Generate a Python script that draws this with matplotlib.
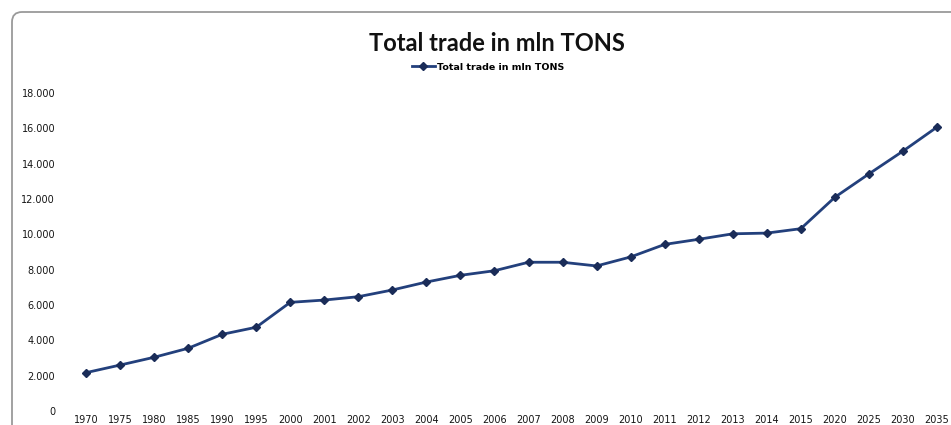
import matplotlib.pyplot as plt
from matplotlib.patches import FancyBboxPatch
from matplotlib.lines import Line2D

# --- Data ---
years = ["1970", "1975", "1980", "1985", "1990", "1995", "2000", "2001", "2002",
         "2003", "2004", "2005", "2006", "2007", "2008", "2009", "2010", "2011",
         "2012", "2013", "2014", "2015", "2020", "2025", "2030", "2035"]
trade = [2170, 2600, 3040, 3550, 4340, 4740, 6150, 6280, 6470,
         6850, 7300, 7680, 7940, 8420, 8420, 8210, 8720, 9430,
         9720, 10030, 10070, 10320, 12100, 13420, 14710, 16070]
yticks = [0, 2000, 4000, 6000, 8000, 10000, 12000, 14000, 16000, 18000]
ytick_labels = ["0", "2.000", "4.000", "6.000", "8.000", "10.000",
                "12.000", "14.000", "16.000", "18.000"]

line_color = "#23407c"
marker_color = "#1a2c58"

W, H = 951, 425
fig = plt.figure(figsize=(W / 100, H / 100), dpi=100)
fig.patch.set_facecolor("white")

# chart frame (rounded box in inches, runs off the right/bottom edge)
frame = FancyBboxPatch((0.12, -0.5), 10.0, (H - 12) / 100 + 0.5,
                       boxstyle="round,pad=0,rounding_size=0.1",
                       transform=fig.dpi_scale_trans, facecolor="white",
                       edgecolor="#9a9a9a", linewidth=1.3, zorder=-5)
fig.patches.append(frame)

# plot area: category centres at 86px .. 937px, y 0 at 411px, 18000 at 93px
step = (937 - 86) / 25
x0 = 86 - 0.5 * step
x1 = 86 + 25.5 * step
ax = fig.add_axes([x0 / W, (H - 411) / H, (x1 - x0) / W, (411 - 93) / H])
ax.set_facecolor("none")

x = list(range(len(years)))
ax.plot(x, trade, color=line_color, linewidth=2, marker="D", markersize=4.5,
        markerfacecolor=marker_color, markeredgecolor=marker_color, zorder=3)

ax.set_xlim(-0.5, 25.5)
ax.set_ylim(0, 18000)
ax.set_xticks(x)
ax.set_xticklabels(years)
ax.set_yticks(yticks)
ax.set_yticklabels(ytick_labels)
ax.tick_params(axis="both", length=0, labelsize=7, colors="#151515")
ax.tick_params(axis="y", pad=10)
ax.tick_params(axis="x", pad=3)
for s in ax.spines.values():
    s.set_visible(False)

fig.text(497 / W, 1 - 43.5 / H, "Total trade in mln TONS", ha="center", va="center",
         fontsize=17, fontweight="bold", family="Lato", color="#111111")

# legend entry under the title
handle = Line2D([], [], color=line_color, linewidth=2, marker="D", markersize=4,
                markerfacecolor=marker_color, markeredgecolor=marker_color)
leg = fig.legend([handle], ["Total trade in mln TONS"], loc="center",
                 bbox_to_anchor=(488 / W, 1 - 67 / H), frameon=False,
                 prop={"size": 6.8, "weight": "bold"}, handlelength=2.4,
                 handletextpad=0.2)

fig.savefig("out.png", dpi=100)
